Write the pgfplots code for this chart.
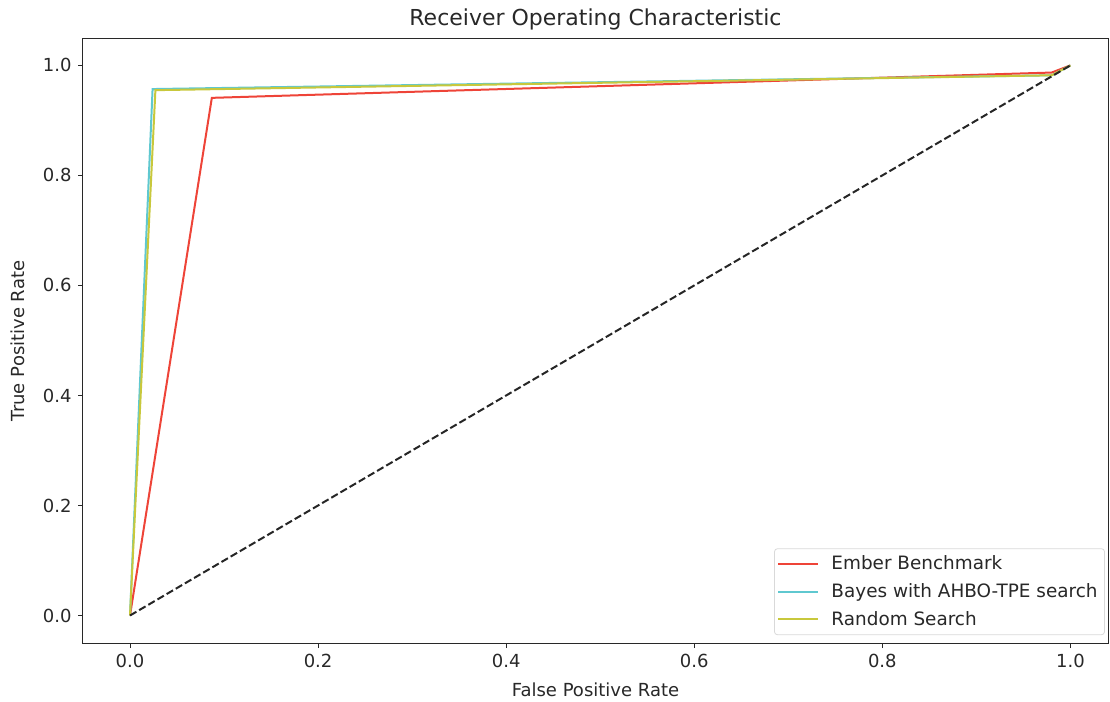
\documentclass[border=0pt]{standalone}
\usepackage{pgfplots}
\pgfplotsset{compat=1.18}
\usepackage{fontspec}
\setmainfont{DejaVu Sans}
\definecolor{emb}{RGB}{238,68,56}
\definecolor{bay}{RGB}{95,200,208}
\definecolor{rnd}{RGB}{200,200,60}
\definecolor{axc}{RGB}{40,40,40}
\begin{document}
\fontsize{9}{11}\selectfont
\begin{tikzpicture}
\begin{axis}[
  scale only axis,
  width=512.5pt, height=302pt,
  xmin=-0.05, xmax=1.04, ymin=-0.05, ymax=1.048,
  xtick={0,0.2,0.4,0.6,0.8,1.0},
  ytick={0,0.2,0.4,0.6,0.8,1.0},
  xticklabel style={/pgf/number format/fixed,/pgf/number format/fixed zerofill,/pgf/number format/precision=1},
  yticklabel style={/pgf/number format/fixed,/pgf/number format/fixed zerofill,/pgf/number format/precision=1},
  /pgf/number format/assume math mode=true,
  tick align=outside, tick pos=left,
  major tick length=2.5pt,
  every tick/.style={axc, line width=0.5pt},
  axis line style={axc, line width=0.5pt},
  tick label style={font=\fontsize{9}{11}\selectfont, text=axc},
  xlabel={False Positive Rate}, ylabel={True Positive Rate},
  label style={font=\fontsize{9}{11}\selectfont, text=axc},
  xlabel style={at={(axis description cs:0.5,0)}, anchor=center, yshift=-23.5pt},
  ylabel style={at={(axis description cs:0,0.5)}, anchor=center, yshift=32.5pt},
  title={Receiver Operating Characteristic},
  title style={font=\fontsize{11}{13}\selectfont, text=axc, at={(axis description cs:0.5,1)}, anchor=center, yshift=4pt},
  legend cell align=left,
  legend style={draw=black!15, rounded corners=1.5pt, font=\fontsize{9.2}{11}\selectfont, text=axc, row sep=1.5pt, inner sep=1.5pt, at={(0.997,0.013)}, anchor=south east},
  legend image code/.code={\draw[#1, line width=1pt] (0pt,0pt) -- (20pt,0pt);},
  clip=false,
]
\addplot[emb, line width=1pt] coordinates {(0,0) (0.087,0.941) (0.98,0.987) (1,1)};
\addlegendentry{\hspace{4pt}Ember Benchmark}
\addplot[bay, line width=1pt] coordinates {(0,0) (0.024,0.957) (0.98,0.982) (1,1)};
\addlegendentry{\hspace{4pt}Bayes with AHBO-TPE search}
\addplot[rnd, line width=1pt] coordinates {(0,0) (0.027,0.955) (0.98,0.982) (1,1)};
\addlegendentry{\hspace{4pt}Random Search}
\addplot[black!85, line width=1pt, dash pattern=on 3.7pt off 1.6pt, forget plot] coordinates {(0,0) (1,1)};
\end{axis}
\pgfresetboundingbox
\useasboundingbox ([xshift=-41.5pt,yshift=-29.5pt]current axis.south west) rectangle ([xshift=1pt,yshift=19.5pt]current axis.north east);
\end{tikzpicture}
\end{document}
